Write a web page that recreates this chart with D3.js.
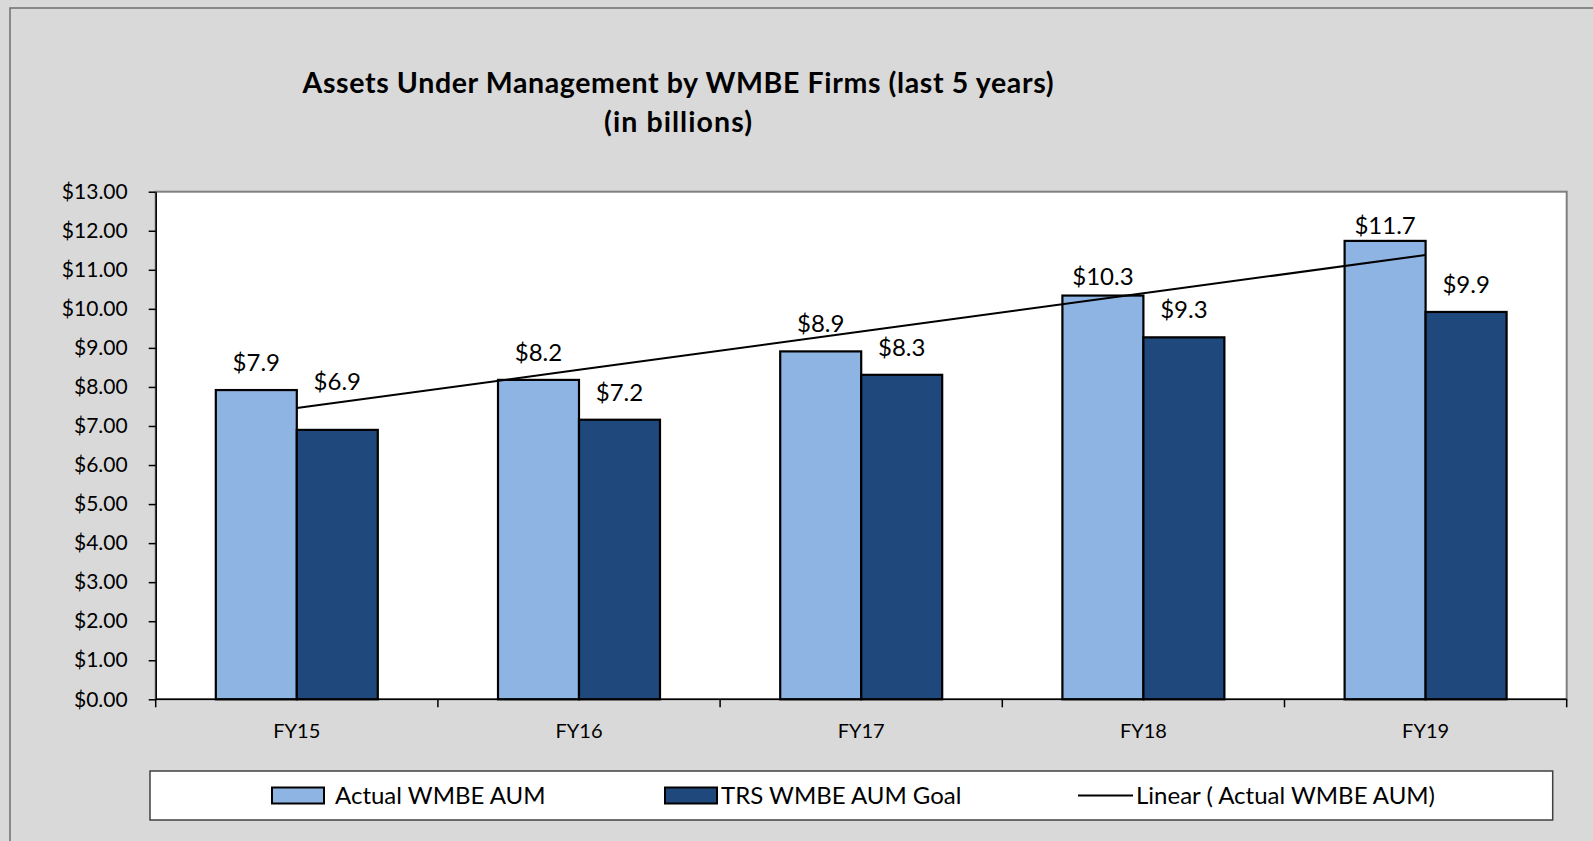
<!DOCTYPE html>
<html>
<head>
<meta charset="utf-8">
<script src="https://cdn.jsdelivr.net/npm/d3@7"></script>
<style>
  html, body { margin: 0; padding: 0; background: #d9d9d9; }
  svg { display: block; font-family: Lato, "Open Sans", sans-serif; }
</style>
</head>
<body>
<div id="chart"></div>
<script>
const WIDTH = 1593;
const HEIGHT = 841;
const PLOT = { LEFT: 155.7, RIGHT: 1566.7, TOP: 191.7, BOTTOM: 699.3 };

// data
const categories = ['FY15', 'FY16', 'FY17', 'FY18', 'FY19'];
const actualAUM = [7.92, 8.18, 8.91, 10.34, 11.74];
const goalAUM = [6.90, 7.16, 8.31, 9.27, 9.92];
const yTicks = d3.range(0, 14, 1);
const seriesNames = ['Actual WMBE AUM', 'TRS WMBE AUM Goal'];
const trendName = 'Linear ( Actual WMBE AUM)';
const titleLines = ['Assets Under Management by WMBE Firms (last 5 years)', '(in billions)'];

// hand-moved data labels (pixels, up is negative)
const actualLabelNudge = [0, 0, 0, 8, 12];
const goalLabelNudge = [-21, 0, 0, 0, 0];

const LIGHT = '#8eb4e3';
const DARK = '#1f497d';

const svg = d3.select('#chart')
  .append('svg')
    .attr('width', WIDTH)
    .attr('height', HEIGHT);

// outer chart area
svg.append('rect')
  .attr('x', 10).attr('y', 8)
  .attr('width', WIDTH).attr('height', HEIGHT)
  .attr('fill', '#d9d9d9')
  .attr('stroke', '#6e6e6e')
  .attr('stroke-width', 1.5);

// title (Calibri is narrower than Lato, so stretch to the original width)
const titleWidths = [751, 148];
svg.append('g')
  .selectAll('text')
  .data(titleLines)
  .enter().append('text')
    .attr('x', 678)
    .attr('y', (d, i) => 93 + i * 39)
    .attr('text-anchor', 'middle')
    .attr('font-weight', 'bold')
    .attr('font-size', 28.5)
    .attr('textLength', (d, i) => titleWidths[i])
    .attr('lengthAdjust', 'spacing')
    .text(d => d);

const x0 = d3.scaleBand()
  .domain(categories)
  .range([PLOT.LEFT, PLOT.RIGHT])
  .paddingInner(0.426)
  .paddingOuter(0.213);

const x1 = d3.scaleBand()
  .domain(seriesNames)
  .range([0, x0.bandwidth()]);

const y = d3.scaleLinear()
  .domain([0, 13])
  .range([PLOT.BOTTOM, PLOT.TOP]);

// plot area
svg.append('rect')
  .attr('x', PLOT.LEFT).attr('y', PLOT.TOP)
  .attr('width', PLOT.RIGHT - PLOT.LEFT)
  .attr('height', PLOT.BOTTOM - PLOT.TOP)
  .attr('fill', '#ffffff')
  .attr('stroke', '#808080')
  .attr('stroke-width', 2);

// bars
const rows = categories.map((c, i) => ({ cat: c, values: [actualAUM[i], goalAUM[i]] }));
const groups = svg.append('g')
  .selectAll('g')
  .data(rows)
  .enter().append('g')
    .attr('transform', d => `translate(${x0(d.cat)},0)`);

groups.selectAll('rect')
  .data(d => d.values.map((v, k) => ({ name: seriesNames[k], v: v, k: k })))
  .enter().append('rect')
    .attr('x', d => x1(d.name))
    .attr('y', d => y(d.v))
    .attr('width', x1.bandwidth())
    .attr('height', d => y(0) - y(d.v))
    .attr('fill', d => d.k === 0 ? LIGHT : DARK)
    .attr('stroke', '#000')
    .attr('stroke-width', 2.2);

// linear trend of actual values
const xs = categories.map((c, i) => i + 1);
const xMean = d3.mean(xs);
const yMean = d3.mean(actualAUM);
const slope = d3.sum(xs, (xv, i) => (xv - xMean) * (actualAUM[i] - yMean)) /
              d3.sum(xs, xv => (xv - xMean) * (xv - xMean));
const intercept = yMean - slope * xMean;
const trend = categories.map((c, i) => ({ cat: c, v: intercept + slope * xs[i] }));

svg.append('path')
  .datum(trend)
  .attr('fill', 'none')
  .attr('stroke', '#000')
  .attr('stroke-width', 2)
  .attr('d', d3.line()
    .x(d => x0(d.cat) + x0.bandwidth() / 2)
    .y(d => y(d.v)));

// data labels
function addLabels(values, k, nudge) {
  svg.append('g')
    .selectAll('text')
    .data(values)
    .enter().append('text')
      .attr('x', (v, i) => x0(categories[i]) + x1(seriesNames[k]) + x1.bandwidth() / 2)
      .attr('y', (v, i) => y(v) - 19 + nudge[i])
      .attr('text-anchor', 'middle')
      .attr('font-size', 24)
      .attr('fill', '#000')
      .text(v => '$' + d3.format('.1f')(v));
}
addLabels(actualAUM, 0, actualLabelNudge);
addLabels(goalAUM, 1, goalLabelNudge);

// y axis
const yAxis = svg.append('g')
  .attr('transform', `translate(${PLOT.LEFT},0)`)
  .call(d3.axisLeft(y)
    .tickValues(yTicks)
    .tickSize(7)
    .tickSizeOuter(0)
    .tickPadding(21)
    .tickFormat(d3.format('$.2f')));
yAxis.selectAll('text').attr('font-size', 21).attr('fill', '#000').attr('font-family', 'Lato, sans-serif');
yAxis.selectAll('line').attr('stroke', '#000').attr('stroke-width', 1.5);
yAxis.select('.domain').attr('stroke', '#000').attr('stroke-width', 1.5);

// x axis: ticks between categories, labels centred
const step = x0.step();
const xAxis = svg.append('g');
xAxis.append('line')
  .attr('x1', PLOT.LEFT).attr('x2', PLOT.RIGHT)
  .attr('y1', y(0)).attr('y2', y(0))
  .attr('stroke', '#000').attr('stroke-width', 1.5);
xAxis.selectAll('.xtick')
  .data(d3.range(categories.length + 1))
  .enter().append('line')
    .attr('class', 'xtick')
    .attr('x1', i => PLOT.LEFT + i * step)
    .attr('x2', i => PLOT.LEFT + i * step)
    .attr('y1', y(0)).attr('y2', y(0) + 8)
    .attr('stroke', '#000').attr('stroke-width', 1.5);
xAxis.selectAll('.xlabel')
  .data(categories)
  .enter().append('text')
    .attr('class', 'xlabel')
    .attr('x', c => x0(c) + x0.bandwidth() / 2)
    .attr('y', 738)
    .attr('text-anchor', 'middle')
    .attr('font-size', 20)
    .text(c => c);

// legend
const legend = svg.append('g');
legend.append('rect')
  .attr('x', 150).attr('y', 771)
  .attr('width', 1402.7).attr('height', 49)
  .attr('fill', '#fff')
  .attr('stroke', '#404040')
  .attr('stroke-width', 1.5);

const legendItems = [
  { name: seriesNames[0], kind: 'box', color: LIGHT, x: 272, gap: 63 },
  { name: seriesNames[1], kind: 'box', color: DARK, x: 665, gap: 56 },
  { name: trendName, kind: 'line', color: '#000', x: 1078, gap: 58 }
];
const item = legend.selectAll('.item')
  .data(legendItems)
  .enter().append('g')
    .attr('class', 'item')
    .attr('transform', d => `translate(${d.x},795.5)`);
item.filter(d => d.kind === 'box').append('rect')
  .attr('x', 0).attr('y', -8)
  .attr('width', 52).attr('height', 16)
  .attr('fill', d => d.color)
  .attr('stroke', '#000')
  .attr('stroke-width', 2);
item.filter(d => d.kind === 'line').append('line')
  .attr('x1', 0).attr('x2', 55)
  .attr('y1', 0).attr('y2', 0)
  .attr('stroke', '#000')
  .attr('stroke-width', 2);
item.append('text')
  .attr('x', d => d.gap)
  .attr('y', 8.5)
  .attr('font-size', 24)
  .text(d => d.name);
</script>
</body>
</html>
